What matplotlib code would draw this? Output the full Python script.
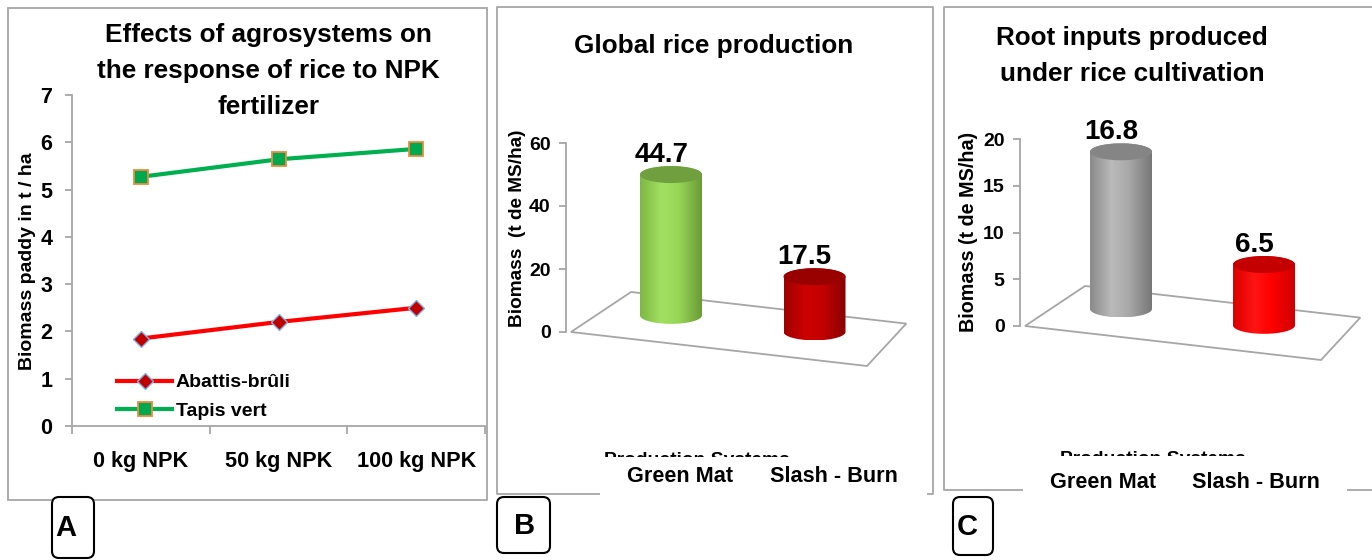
import numpy as np
import matplotlib
matplotlib.use("Agg")
import matplotlib.pyplot as plt
from matplotlib.patches import Polygon, Ellipse, PathPatch, Rectangle, FancyBboxPatch
from matplotlib.path import Path
from matplotlib.colors import LinearSegmentedColormap

# ---- data -------------------------------------------------------------
npk_levels = ["0 kg NPK", "50 kg NPK", "100 kg NPK"]
abattis_bruli = [1.85, 2.2, 2.5]
tapis_vert = [5.27, 5.64, 5.86]

systems = ["Green Mat", "Slash - Burn"]
global_production = [44.7, 17.5]
global_ticks = [0, 20, 40, 60]
root_inputs = [16.8, 6.5]
root_ticks = [0, 5, 10, 15, 20]

# ---- figure -----------------------------------------------------------
W, H = 1372, 560
FONT = ["Liberation Sans", "DejaVu Sans"]
plt.rcParams["font.family"] = FONT
plt.rcParams["font.weight"] = "bold"
fig = plt.figure(figsize=(W / 100, H / 100), dpi=100)
fig.patch.set_facecolor("white")
GRAY = "#A6A6A6"


def frac(x0, y0, x1, y1):
    """Pixel box (top-left origin) -> figure fraction rect."""
    return [x0 / W, 1 - y1 / H, (x1 - x0) / W, (y1 - y0) / H]


def ftext(x, y, s, **kw):
    fig.text(x / W, 1 - y / H, s, **kw)


# ---- panel A: line chart ----------------------------------------------
axA = fig.add_axes(frac(72, 95, 485, 426))
xpos = np.arange(len(npk_levels)) + 0.5
axA.plot(xpos, abattis_bruli, color="#FF0000", lw=3, marker="D", ms=8.5,
         mfc="#C00000", mec="#7FB2E5", mew=1.0, label="Abattis-brûli", zorder=3)
axA.plot(xpos, tapis_vert, color="#00B050", lw=3, marker="s", ms=10.5,
         mfc="#00A84F", mec="#F08A3C", mew=1.3, label="Tapis vert", zorder=3)
axA.set_xlim(0, len(npk_levels))
axA.set_ylim(0, 7)
for s in ("top", "right"):
    axA.spines[s].set_visible(False)
for s in ("left", "bottom"):
    axA.spines[s].set_color(GRAY)
    axA.spines[s].set_linewidth(1.3)
axA.set_yticks(range(8))
axA.tick_params(axis="y", length=5, width=1.3, color=GRAY, labelsize=15.5, pad=9)
axA.set_xticks(range(len(npk_levels) + 1))
axA.set_xticklabels([])
axA.tick_params(axis="x", which="major", length=6, width=1.3, color=GRAY)
axA.set_xticks(xpos, minor=True)
axA.set_xticklabels(npk_levels, minor=True)
axA.tick_params(axis="x", which="minor", length=0, labelsize=15.6, pad=18)
axA.legend(loc="upper left", bbox_to_anchor=(0.11, 0.158), frameon=False,
           fontsize=14, handlelength=2.8, handletextpad=0.2,
           labelspacing=0.55, borderpad=0, borderaxespad=0)
ftext(268, 71, "Effects of agrosystems on\nthe response of rice to NPK\nfertilizer",
      ha="center", va="center", fontsize=18.8, linespacing=1.62)
ftext(27, 261, "Biomass paddy in t / ha", rotation=90, ha="center", va="center",
      fontsize=14)


# ---- panels B and C: cylinder charts ----------------------------------
def cylinder_panel(values, ticks, rect, x0_px, step_px, zero_px, ppu, axis_px,
                   body_cols, top_cols):
    ax = fig.add_axes(frac(*rect))
    xlim = ((rect[0] - x0_px) / step_px, (rect[2] - x0_px) / step_px)
    ylim = ((zero_px - rect[3]) / ppu, (zero_px - rect[1]) / ppu)
    ax.patch.set_visible(False)

    # floor of the plot box, drawn in perspective (back edge shorter)
    axis_x = (axis_px - x0_px) / step_px
    origin = np.array([(axis_px + 5 - x0_px) / step_px, 0.0])
    depth = np.array([60 / step_px, 40 / ppu])
    front = np.array([296 / step_px, -34 / ppu])
    floor = np.array([origin, origin + depth, origin + depth + 0.93 * front,
                      origin + front])
    ax.add_patch(Polygon(floor, closed=True, facecolor="white", edgecolor=GRAY,
                         lw=1.3, zorder=1))

    # value axis
    for s in ("top", "right", "bottom"):
        ax.spines[s].set_visible(False)
    ax.spines["left"].set_position(("data", axis_x))
    ax.spines["left"].set_bounds(ticks[0], ticks[-1])
    ax.spines["left"].set_color(GRAY)
    ax.spines["left"].set_linewidth(1.3)
    ax.set_xticks([])
    ax.set_yticks(ticks)
    ax.tick_params(axis="y", length=5, width=1.3, color=GRAY, labelsize=14,
                   pad=6)

    rx = 31 / step_px
    ry = 8.5 / ppu
    theta = np.linspace(np.pi, 2 * np.pi, 60)
    for i, v in enumerate(values):
        t = (i - origin[0] - 0.6 * depth[0]) / front[0]
        base = t * front[1] + 0.6 * depth[1]
        top = base + v
        bottom_arc = np.column_stack([i + rx * np.cos(theta), base + ry * np.sin(theta)])
        top_arc = np.column_stack([i + rx * np.cos(theta - np.pi),
                                   top + ry * np.sin(theta - np.pi)])
        verts = np.vstack([[[i - rx, top]], bottom_arc, top_arc, [[i - rx, top]]])
        body = PathPatch(Path(verts, closed=True), facecolor="none", edgecolor="none")
        ax.add_patch(body)
        cmap = LinearSegmentedColormap.from_list(
            "shade", list(zip([0.0, 0.35, 0.62, 1.0], body_cols[i])))
        im = ax.imshow(np.linspace(0, 1, 256)[None, :], cmap=cmap, aspect="auto",
                       extent=[i - rx, i + rx, base - ry, top + ry],
                       interpolation="bicubic", zorder=2)
        im.set_clip_path(body)
        ax.add_patch(Ellipse((i, top), 2 * rx, 2 * ry, facecolor=top_cols[i],
                             edgecolor="none", zorder=3))
        ax.annotate(f"{v}", (i, top), xytext=(-7, 14), textcoords="offset points",
                    ha="center", va="center", fontsize=20)
    ax.set_xlim(*xlim)
    ax.set_ylim(*ylim)
    return ax


cylinder_panel(global_production, global_ticks, (530, 110, 935, 400),
               671, 143.5, 332, 3.15, 566,
               [["#7DB842", "#A2E062", "#97D656", "#6A9B38"],
                ["#9E0000", "#CE0000", "#C40000", "#880000"]],
               ["#6F9F3E", "#990000"])
cylinder_panel(root_inputs, root_ticks, (985, 110, 1372, 400),
               1121, 143, 326, 9.35, 1020,
               [["#8A8A8A", "#BABABA", "#A9A9A9", "#777777"],
                ["#DC0000", "#FF1414", "#FF0000", "#CF0000"]],
               ["#858585", "#C40000"])

ftext(714, 46, "Global rice production", ha="center", va="center", fontsize=18.8)
ftext(1132, 56, "Root inputs produced\nunder rice cultivation", ha="center",
      va="center", fontsize=18.8, linespacing=1.58)
ftext(518, 228, "Biomass  (t de MS/ha)", rotation=90, ha="center", va="center",
      fontsize=13.7)
ftext(968, 232, "Biomass (t de MS/ha)", rotation=90, ha="center", va="center",
      fontsize=14.2)

# ---- frames, axis-title strips and panel letters -----------------------
ov = fig.add_axes([0, 0, 1, 1])
ov.set_xlim(0, W)
ov.set_ylim(H, 0)
ov.axis("off")
ov.patch.set_visible(False)

ov.add_patch(Rectangle((8, 8), 479, 492, facecolor="none", edgecolor=GRAY, lw=1.3))
ov.plot([600, 497, 497, 933, 933, 927], [494, 494, 7, 7, 494, 494], color=GRAY, lw=1.3)
ov.plot([1023, 944, 944, 1372], [490, 490, 7, 7], color=GRAY, lw=1.3)
ov.plot([1347, 1372], [490, 490], color=GRAY, lw=1.3)

# axis titles, mostly hidden behind the category-label strip
ov.text(697, 465, "Production Systems", ha="center", va="baseline", fontsize=13.9)
ov.text(1153, 464, "Production Systems", ha="center", va="baseline", fontsize=13.9)
ov.add_patch(Rectangle((600, 457), 327, 45, facecolor="white", edgecolor="none", zorder=5))
ov.add_patch(Rectangle((1023, 456), 324, 45, facecolor="white", edgecolor="none", zorder=5))

for cx, lab in zip([680, 834], systems):
    ov.text(cx, 477, lab, ha="center", va="center", fontsize=15.6, zorder=6)
for cx, lab in zip([1103, 1256], systems):
    ov.text(cx, 482, lab, ha="center", va="center", fontsize=15.6, zorder=6)

for (bx0, by0, bx1, by1), (lx, ly), letter in [((52, 497, 94, 558), (66, 528), "A"),
                                               ((497, 497, 550, 553), (525, 526), "B"),
                                               ((953, 497, 993, 555), (967, 527), "C")]:
    ov.add_patch(FancyBboxPatch((bx0, by0), bx1 - bx0, by1 - by0,
                                boxstyle="round,pad=0,rounding_size=7",
                                facecolor="white", edgecolor="black", lw=1.5, zorder=6))
    ov.text(lx, ly, letter, ha="center", va="center", fontsize=21, zorder=7)

fig.savefig("out.png", dpi=100)
